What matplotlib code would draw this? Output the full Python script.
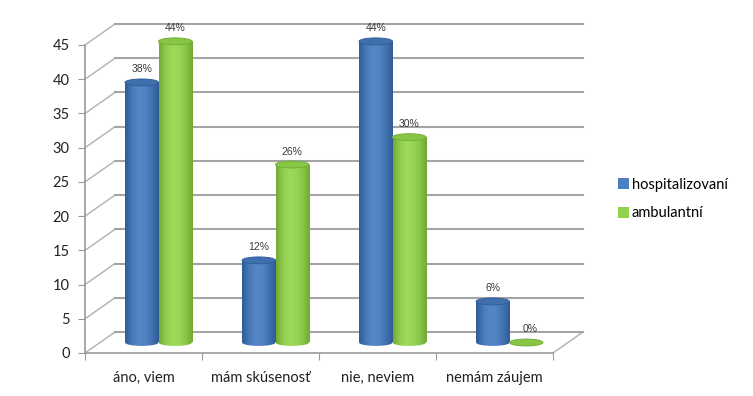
import numpy as np
import matplotlib.pyplot as plt
from matplotlib.patches import Ellipse, Rectangle, Patch
from matplotlib.colors import LinearSegmentedColormap

# údaje z grafu
kategorie = ["áno, viem", "mám skúsenosť", "nie, neviem", "nemám záujem"]
hospitalizovani = [38, 12, 44, 6]
ambulantni = [44, 26, 30, 0]
serie = ["hospitalizovaní", "ambulantní"]
yticks = list(range(0, 50, 5))

plt.rcParams['font.family'] = ['Lato', 'DejaVu Sans']

fig = plt.figure(figsize=(7.53, 3.96), dpi=100)
ax = fig.add_axes([85 / 753, 43 / 396, 468 / 753, 308 / 396])
ax.set_xlim(0, len(kategorie))
ax.set_ylim(0, 45)

# hĺbka "3D" efektu v jednotkách osí
DX = 30 / 117
DY = 21 / (308 / 45)
sirka = 1 / 3.5
ry = 0.5  # polovičná výška elipsy (v jednotkách hodnoty)

grid_c = '#a4a4a4'
for v in yticks:
    ax.plot([0, DX], [v, v + DY], color='#b0b0b0', lw=1.0, clip_on=False, zorder=1)
    ax.plot([DX, len(kategorie) + DX], [v + DY, v + DY], color=grid_c, lw=1.5,
            clip_on=False, zorder=1)
ax.plot([len(kategorie), len(kategorie) + DX], [0, DY], color='#b0b0b0', lw=1.0,
        clip_on=False, zorder=1)

farby = {
    0: (['#2f5c96', '#4878b8', '#5686c6', '#5283c3', '#4272b0', '#2f5c96'], '#3f6fad', '#30609c'),
    1: (['#73aa36', '#90cd4d', '#9edb5b', '#98d556', '#88c646', '#70a834'], '#88c646', '#74ae38'),
}

grad = np.linspace(0, 1, 64).reshape(1, -1)
for j, hodnoty in enumerate([hospitalizovani, ambulantni]):
    cols, top_c, edge_c = farby[j]
    cmap = LinearSegmentedColormap.from_list('c%d' % j, cols)
    for i, v in enumerate(hodnoty):
        x0 = i + 0.5 - sirka + j * sirka + DX / 2
        y0 = DY / 2
        top = v + DY / 2
        xc = x0 + sirka / 2
        if v > 0:
            body = Rectangle((x0, y0), sirka, v, transform=ax.transData)
            im = ax.imshow(grad, cmap=cmap, extent=[x0, x0 + sirka, y0, top],
                           aspect='auto', zorder=3)
            im.set_clip_path(body)
            bottom = Ellipse((xc, y0), sirka, 2 * ry, transform=ax.transData)
            im2 = ax.imshow(grad, cmap=cmap, extent=[x0, x0 + sirka, y0 - ry, y0 + ry],
                            aspect='auto', zorder=3)
            im2.set_clip_path(bottom)
        ax.add_patch(Ellipse((xc, top), sirka, 2 * ry, facecolor=top_c,
                             edgecolor=edge_c, lw=0.7, zorder=4, clip_on=False))
        ax.text(xc + (0.03 if v == 0 else 0), top + 1.9, f"{v}%", ha='center', va='center',
                fontsize=7.5, family=['Liberation Sans', 'DejaVu Sans'], color='#3a3a3a',
                zorder=5, clip_on=False)

ax.set_xlim(0, len(kategorie))
ax.set_ylim(0, 45)
ax.set_aspect('auto')

for s in ['top', 'right']:
    ax.spines[s].set_visible(False)
for s in ['left', 'bottom']:
    ax.spines[s].set_color('#9a9a9a')
    ax.spines[s].set_linewidth(1.2)

ax.set_yticks(yticks)
ax.set_yticklabels([str(t) for t in yticks], fontsize=10.5, color='#222222')
ax.tick_params(axis='y', length=5, color='#9a9a9a', pad=6)
ax.set_xticks(range(len(kategorie) + 1))
ax.set_xticklabels([])
ax.tick_params(axis='x', which='major', length=5, color='#9a9a9a')
ax.set_xticks(np.arange(len(kategorie)) + 0.5, minor=True)
ax.set_xticklabels(kategorie, minor=True, fontsize=10.5, color='#222222')
ax.tick_params(axis='x', which='minor', length=0, pad=13)
ax.patch.set_visible(False)

handles = [Patch(facecolor='#4a7fc0', label=serie[0]),
           Patch(facecolor='#92d050', label=serie[1])]
fig.legend(handles=handles, loc='upper left', bbox_to_anchor=(612 / 753, 1 - 172 / 396),
           frameon=False, fontsize=10.5, handlelength=0.75, handleheight=0.75,
           handletextpad=0.2, labelspacing=1.0, borderaxespad=0)

fig.savefig('out.png', dpi=100)
